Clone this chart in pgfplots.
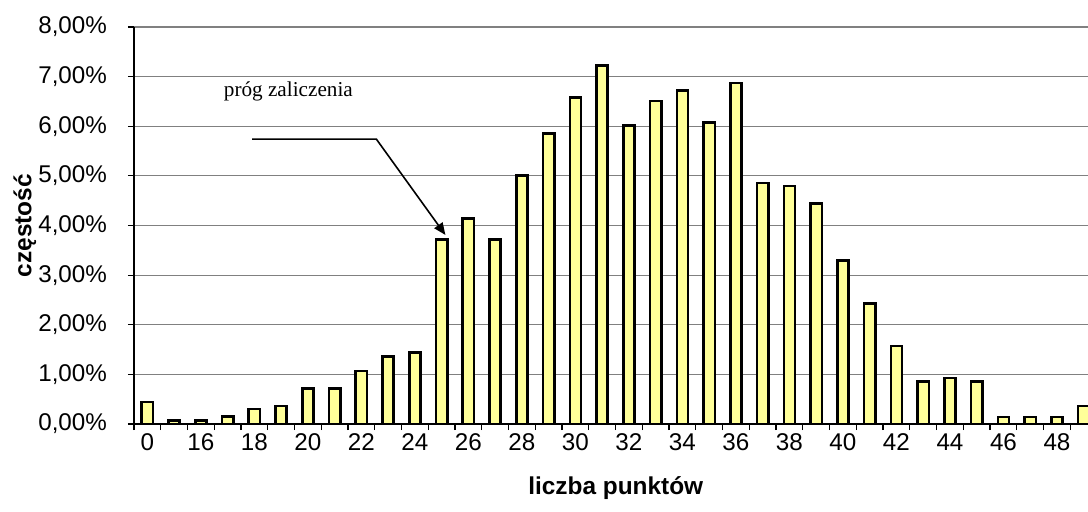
\documentclass[border=0pt]{standalone}
\usepackage{pgfplots}
\pgfplotsset{compat=1.18}
\usetikzlibrary{arrows.meta}
\usepackage{fontspec}
\setmainfont{Liberation Sans}
\newfontfamily\seriffont{Liberation Serif}
\definecolor{baryellow}{HTML}{FFFF99}
\definecolor{gridgray}{HTML}{808080}

\begin{document}
\begin{tikzpicture}
\useasboundingbox (0,0) rectangle (544pt,255.5pt);
\begin{axis}[
  at={(67pt,43.5pt)}, anchor=south west,
  scale only axis, width=477pt, height=198.5pt,
  xmin=-0.5, xmax=35.16, ymin=0, ymax=8,
  axis x line*=bottom, axis y line*=left,
  axis line style={line width=0.8pt, black},
  tick align=outside,
  major tick length=3pt,
  xtick={-0.5,0.5,...,35.5}, xticklabels={},
  extra x ticks={0,2,...,34},
  extra x tick labels={0,16,18,20,22,24,26,28,30,32,34,36,38,40,42,44,46,48},
  extra x tick style={major tick length=0pt, grid=none, xticklabel style={yshift=-1.5pt}},
  ytick={0,1,...,8},
  yticklabels={{0,00\%},{1,00\%},{2,00\%},{3,00\%},{4,00\%},{5,00\%},{6,00\%},{7,00\%},{8,00\%}},
  yticklabel style={xshift=-7pt},
  ymajorgrids, grid style={gridgray, line width=0.6pt},
  tick style={black, line width=0.6pt},
  ticklabel style={font=\fontsize{12.1}{14}\selectfont},
  xlabel={liczba punktów},
  ylabel={częstość},
  label style={font=\bfseries\fontsize{12.2}{14}\selectfont},
  xlabel style={at={(axis description cs:0.505,-0.1613)}, anchor=center},
  ylabel style={at={(axis description cs:-0.1143,0.5)}, anchor=center},
]
\addplot[ybar, bar width=0.42, fill=baryellow, draw=black, line width=1.3pt] table {
x y
0 0.44
1 0.07
2 0.07
3 0.15
4 0.30
5 0.36
6 0.72
7 0.72
8 1.07
9 1.36
10 1.44
11 3.72
12 4.14
13 3.72
14 5.01
15 5.86
16 6.58
17 7.23
18 6.01
19 6.51
20 6.72
21 6.08
22 6.87
23 4.86
24 4.80
25 4.44
26 3.30
27 2.43
28 1.57
29 0.86
30 0.93
31 0.86
32 0.14
33 0.14
34 0.14
35 0.36
};
\node[font=\seriffont\fontsize{10.6}{12}\selectfont] at (axis cs:5.27,6.71) {próg zaliczenia};
\draw[line width=0.8pt, -{Triangle[length=6pt,width=5pt]}] (axis cs:3.92,5.74) -- (axis cs:8.56,5.74) -- (axis cs:11.14,3.81);
\end{axis}
\end{tikzpicture}
\end{document}
